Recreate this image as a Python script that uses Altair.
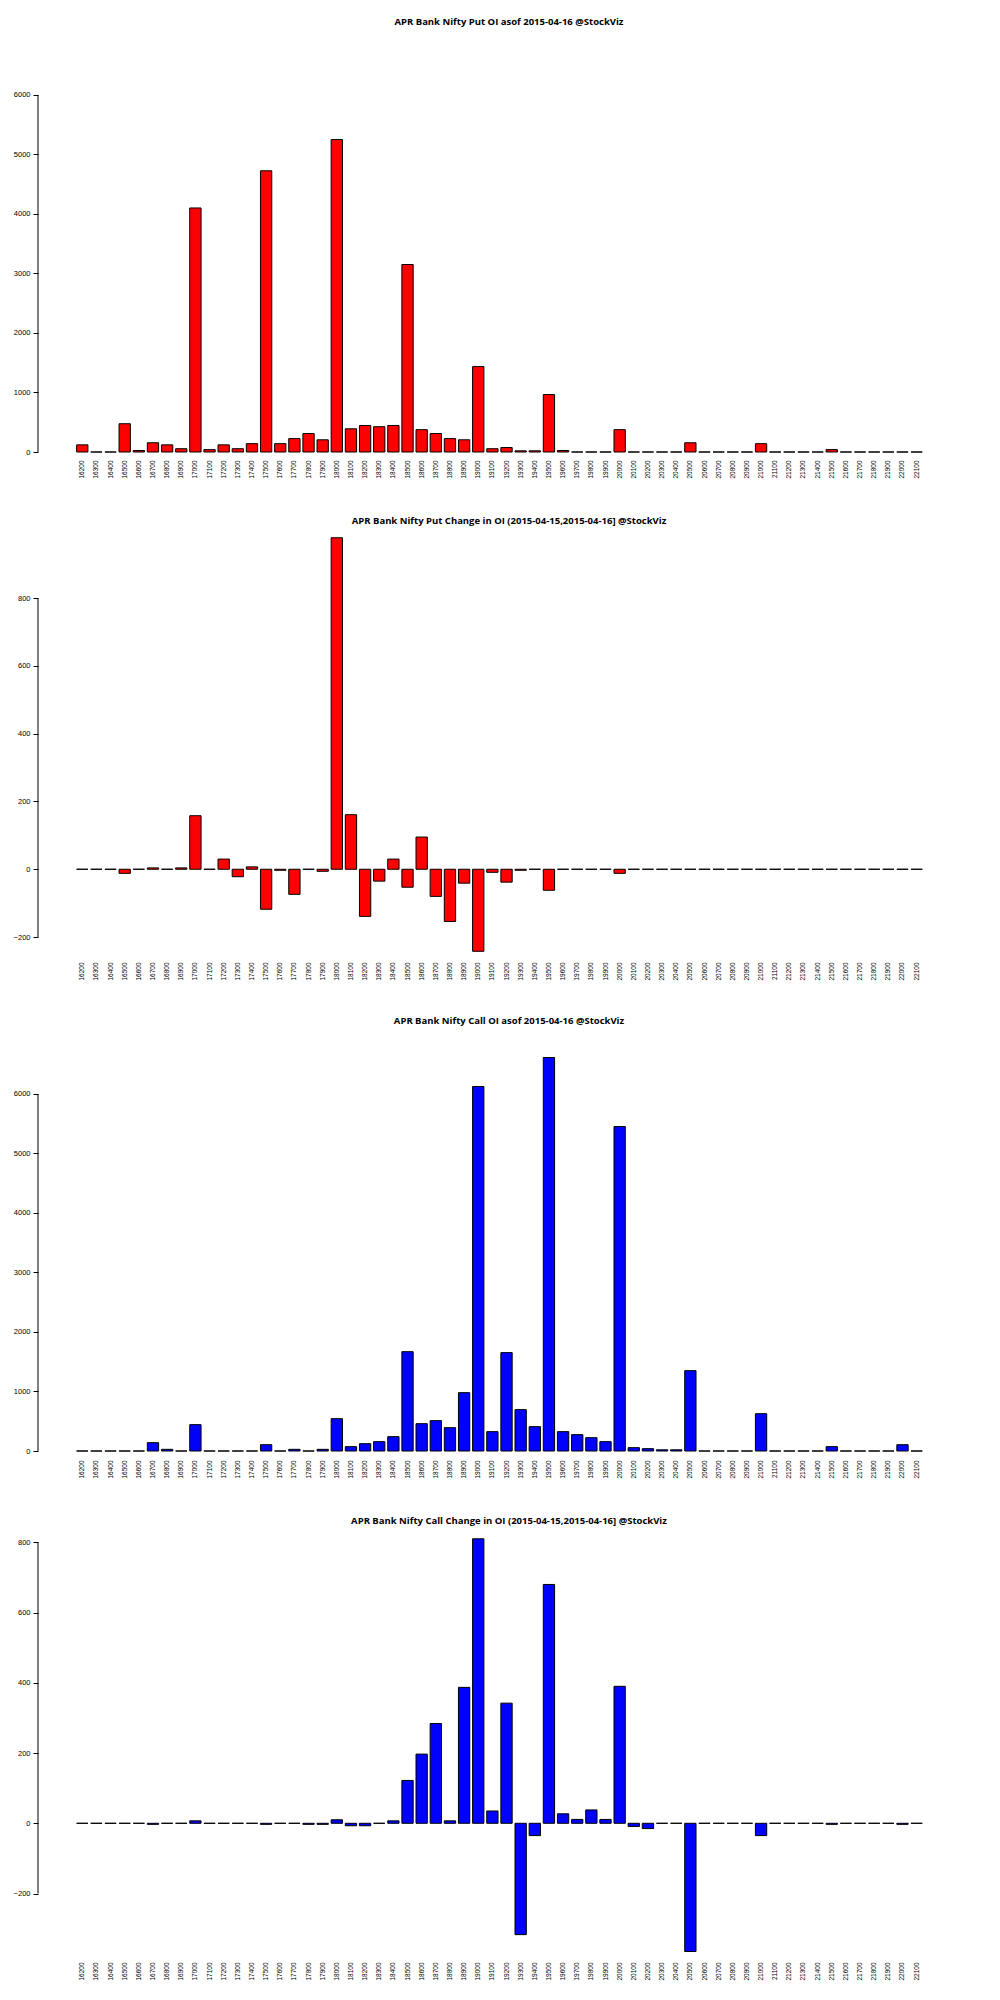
import altair as alt
import pandas as pd

strikes = ["16200", "16300", "16400", "16500", "16600", "16700", "16800", "16900", "17000", "17100",
           "17200", "17300", "17400", "17500", "17600", "17700", "17800", "17900", "18000", "18100",
           "18200", "18300", "18400", "18500", "18600", "18700", "18800", "18900", "19000", "19100",
           "19200", "19300", "19400", "19500", "19600", "19700", "19800", "19900", "20000", "20100",
           "20200", "20300", "20400", "20500", "20600", "20700", "20800", "20900", "21000", "21100",
           "21200", "21300", "21400", "21500", "21600", "21700", "21800", "21900", "22000", "22100"]

put_oi = [120, 0, 0, 475, 25, 155, 120, 55, 4100, 40,
          120, 55, 140, 4725, 140, 225, 310, 205, 5250, 390,
          445, 425, 445, 3150, 375, 310, 225, 205, 1435, 55,
          75, 20, 20, 965, 25, 0, 0, 0, 375, 0,
          0, 0, 0, 155, 0, 0, 0, 0, 140, 0,
          0, 0, 0, 40, 0, 0, 0, 0, 0, 0]

put_chg = [0, 0, 0, -12, 0, 4, 0, 4, 158, 0,
           30, -22, 7, -118, -3, -74, 0, -6, 978, 161,
           -139, -35, 30, -53, 95, -80, -154, -41, -242, -9,
           -38, -3, 0, -62, 0, 0, 0, 0, -12, 0,
           0, 0, 0, 0, 0, 0, 0, 0, 0, 0,
           0, 0, 0, 0, 0, 0, 0, 0, 0, 0]

call_oi = [0, 0, 0, 0, 0, 140, 28, 0, 443, 0,
           0, 0, 0, 106, 0, 28, 0, 28, 543, 73,
           123, 157, 241, 1669, 459, 510, 392, 980, 6123, 325,
           1653, 695, 409, 6611, 325, 275, 224, 157, 5451, 56,
           39, 20, 20, 1350, 0, 0, 0, 0, 627, 0,
           0, 0, 0, 73, 0, 0, 0, 0, 106, 0]

call_chg = [0, 0, 0, 0, 0, -3, 0, 0, 7, 0,
            0, 0, 0, -3, 0, 0, -3, -3, 10, -7,
            -7, 0, 7, 122, 197, 284, 7, 387, 810, 35,
            342, -317, -35, 680, 27, 11, 38, 11, 390, -9,
            -15, 0, 0, -365, 0, 0, 0, 0, -35, 0,
            0, 0, 0, -3, 0, 0, 0, 0, -3, 0]

titles = ["APR Bank Nifty Put OI asof 2015-04-16 @StockViz",
          "APR Bank Nifty Put Change in OI (2015-04-15,2015-04-16] @StockViz",
          "APR Bank Nifty Call OI asof 2015-04-16 @StockViz",
          "APR Bank Nifty Call Change in OI (2015-04-15,2015-04-16] @StockViz"]

oi_ticks = [0, 1000, 2000, 3000, 4000, 5000, 6000]
chg_ticks = [-200, 0, 200, 400, 600, 800]

W = 942


def panel(values, color, title, dmin, dmax, height, ticks, offset, label_pad, x_extent):
    df = pd.DataFrame({"strike": strikes, "value": values})
    x = alt.X("strike:N", sort=strikes, title=None,
              scale=alt.Scale(range=[37.2, 885.7], paddingInner=0.2, paddingOuter=0.1),
              axis=alt.Axis(labelAngle=-90, labelFontSize=6.5, labelFont="Liberation Sans",
                            labelColor="black", ticks=False, domain=False,
                            labelPadding=label_pad, minExtent=x_extent, maxExtent=x_extent,
                            labelOverlap=False))
    y = alt.Y("value:Q", title=None,
              scale=alt.Scale(domain=[dmin, dmax], nice=False, zero=False),
              axis=alt.Axis(values=ticks, format="d", domain=False, tickColor="black",
                            tickSize=5, tickWidth=1, labelPadding=3, labelFontSize=7.5,
                            labelFont="Liberation Sans", labelColor="black", grid=False,
                            minExtent=30, maxExtent=30))
    bars = alt.Chart(df).mark_bar(fill=color, stroke="black", strokeWidth=1).encode(
        x=x, y=y, y2=alt.datum(0))
    line_df = pd.DataFrame({"lo": [ticks[0]], "hi": [ticks[-1]]})
    axis_line = alt.Chart(line_df).mark_rule(color="black", strokeWidth=1).encode(
        x=alt.value(0), y=alt.Y("lo:Q"), y2="hi:Q")
    return alt.layer(bars, axis_line).properties(
        width=W, height=height,
        title=alt.TitleParams(text=title, fontSize=9.5, font="Open Sans", fontWeight="bold",
                              color="black", offset=offset, anchor="middle"))


p1 = panel(put_oi, "#FF0000", titles[0], 0, 6082, 362, oi_ticks, 64, 8, 63)
p2 = panel(put_chg, "#FF0000", titles[1], -250, 995, 422, chg_ticks, 7, 8, 61)
p3 = panel(call_oi, "#0000FF", titles[2], 0, 6754, 402, oi_ticks, 24, 9, 64)
p4 = panel(call_chg, "#0000FF", titles[3], -375, 826.5, 422, chg_ticks, 8, 7, 40)

chart = alt.vconcat(p1, p2, p3, p4, spacing=0).properties(
    padding={"left": 0, "top": 8, "right": 0, "bottom": 0},
    background="white"
).configure_view(stroke=None)

chart.save("out.html", embed_options={"renderer": "svg", "actions": False})
